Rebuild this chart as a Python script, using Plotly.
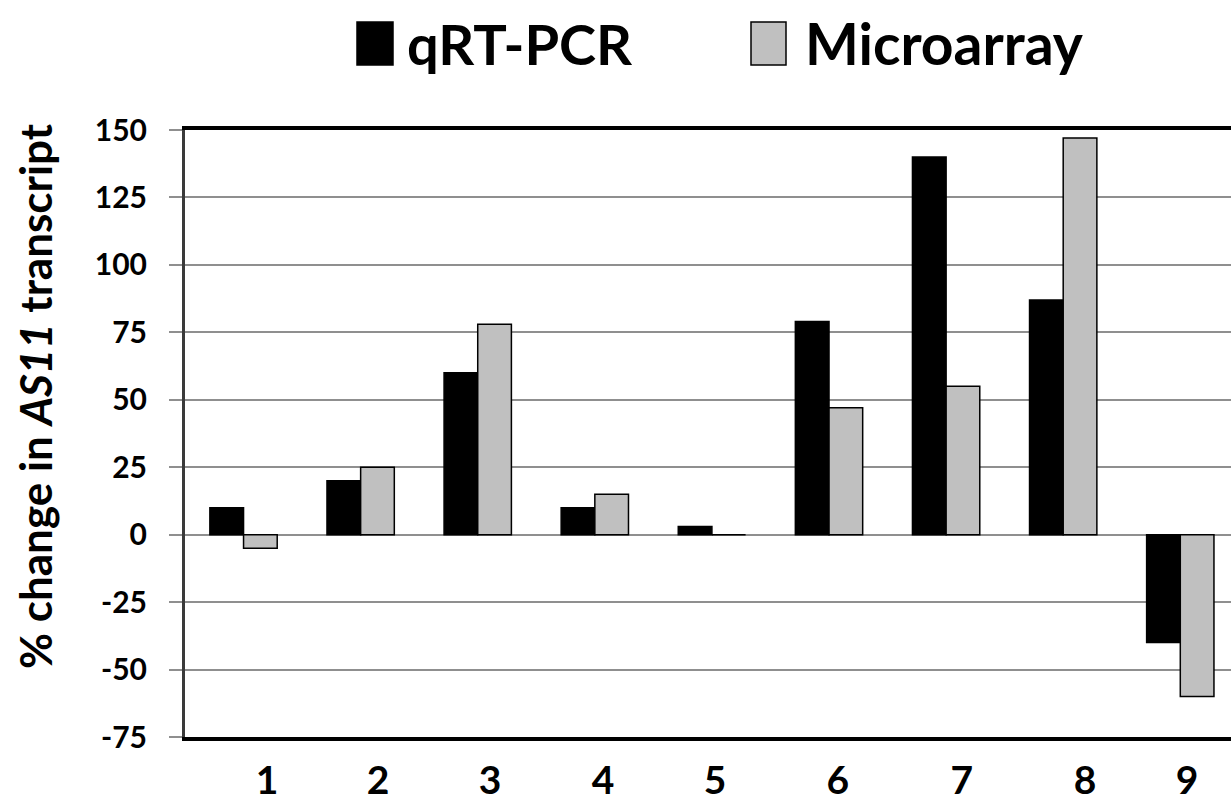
import plotly.graph_objects as go

# ---- data ----
categories = [1, 2, 3, 4, 5, 6, 7, 8, 9]
x_labels = ["1", "2", "3", "4", "5", "6", "7", "8", "9"]
qrtpcr = [10, 20, 60, 10, 3, 79, 140, 87, -40]
microarray = [-5, 25, 78, 15, 0, 47, 55, 147, -60]
y_ticks = [-75, -50, -25, 0, 25, 50, 75, 100, 125, 150]
y_ticktext = ["-75", "-50", "-25", "0", "25", "50", "75", "100", "125", "150"]
series_names = ["qRT-PCR", "Microarray"]
y_title = "% change in <i>AS11</i> transcript"

# ---- layout constants ----
W, H = 1231, 804
ML, MR, MT, MB = 185, 0, 130, 67
PW, PH = W - ML - MR, H - MT - MB
FONT = "Lato, 'Open Sans', sans-serif"
# label x positions (data units) as placed in the original figure
label_pos = [1.200, 2.148, 3.105, 4.070, 5.026, 6.076, 7.135, 8.186, 9.057]
x_range = [0.5, 9.433]
y_range = [-75, 150]


def px_x(p):
    return (p - ML) / PW


def px_y(p):
    return (H - MB - p) / PH


fig = go.Figure()
fig.add_trace(go.Bar(x=categories, y=qrtpcr, name=series_names[0],
                     marker=dict(color="#000000", line=dict(color="#000000", width=1.5))))
fig.add_trace(go.Bar(x=categories, y=microarray, name=series_names[1],
                     marker=dict(color="#c0c0c0", line=dict(color="#000000", width=1.5))))

zero_frac = (0 - y_range[0]) / (y_range[1] - y_range[0])
boundaries = [c + 0.5 for c in categories[:-1]]

fig.update_layout(
    width=W, height=H,
    margin=dict(l=ML, r=MR, t=MT, b=MB),
    paper_bgcolor="white", plot_bgcolor="white",
    barmode="group", bargap=0.425, bargroupgap=0,
    showlegend=False,
    font=dict(family=FONT, color="black"),
    xaxis=dict(
        range=x_range, showgrid=False, zeroline=False,
        showline=True, mirror=True, linecolor="black", linewidth=4,
        tickvals=label_pos, ticktext=x_labels, ticks="outside", ticklen=0,
        ticklabelstandoff=6,
        tickfont=dict(family=FONT, size=39, weight="bold", color="black"),
    ),
    xaxis2=dict(
        overlaying="x", anchor="free", position=zero_frac, range=x_range,
        showgrid=False, zeroline=False, showline=True, linecolor="black", linewidth=1.2,
        tickvals=boundaries, ticks="outside", ticklen=9, tickwidth=1.5, tickcolor="black",
        showticklabels=False,
    ),
    yaxis=dict(
        range=y_range, tickvals=y_ticks, ticktext=y_ticktext,
        showgrid=True, gridcolor="#8f8f8f", gridwidth=1.5, zeroline=False,
        showline=True, linecolor="#3a3a3a", linewidth=3,
        ticks="outside", ticklen=13, tickwidth=1.5, tickcolor="#8f8f8f",
        ticklabelstandoff=16,
        tickfont=dict(family=FONT, size=30, weight="bold", color="black"),
    ),
)

# y-axis title
fig.add_annotation(xref="paper", yref="paper", x=px_x(35), y=px_y(396),
                   text=y_title, textangle=-90, showarrow=False,
                   xanchor="center", yanchor="middle",
                   font=dict(family=FONT, size=44, weight="bold", color="black"))

# legend drawn at the top
fig.add_shape(type="rect", xref="paper", yref="paper",
              x0=px_x(357), x1=px_x(393), y0=px_y(65), y1=px_y(22),
              fillcolor="#000000", line=dict(color="#000000", width=1.5))
fig.add_shape(type="rect", xref="paper", yref="paper",
              x0=px_x(751), x1=px_x(786), y0=px_y(65), y1=px_y(22),
              fillcolor="#c0c0c0", line=dict(color="#000000", width=1.5))
fig.add_annotation(xref="paper", yref="paper", x=px_x(405), y=px_y(43),
                   text=series_names[0], showarrow=False, xanchor="left", yanchor="middle",
                   font=dict(family=FONT, size=56, weight="bold", color="black"))
fig.add_annotation(xref="paper", yref="paper", x=px_x(803), y=px_y(43),
                   text=series_names[1], showarrow=False, xanchor="left", yanchor="middle",
                   font=dict(family=FONT, size=57, weight="bold", color="black"))

fig.write_html("out.html", config={"displayModeBar": False},
               post_script="document.body.style.margin='0';document.body.style.overflow='hidden';")
